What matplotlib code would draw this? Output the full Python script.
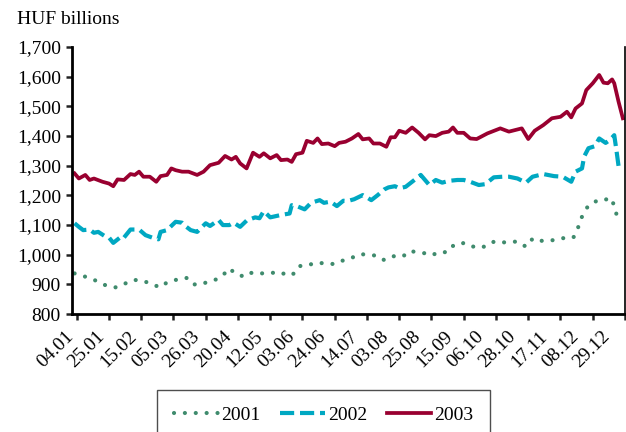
# weekly-ish readings of three years of daily values, one line per year

import matplotlib.pyplot as plt
from matplotlib.ticker import FuncFormatter
from matplotlib.transforms import ScaledTranslation

## DATA

# tick labels (one every 15 trading days)
tick_labels = ['04.01', '25.01', '15.02', '05.03', '26.03', '20.04', '12.05',
               '03.06', '24.06', '14.07', '03.08', '25.08', '15.09', '06.10',
               '28.10', '17.11', '08.12', '29.12']

# 2001 (trading day index, HUF billions)
days_2001 = [-1, 3, 6, 10, 14, 18, 21, 25, 27, 31, 35, 39, 42, 46, 49, 51, 54,
             58, 61, 65, 68, 71, 74, 78, 81, 84, 88, 91, 95, 98, 102, 104, 108,
             110, 113, 116, 120, 123, 126, 129, 132, 137, 140, 143, 146, 149,
             152, 155, 159, 162, 165, 168, 171, 174, 177, 180, 183, 187, 191,
             194, 197, 201, 204, 207, 210, 212, 216, 220, 224, 228, 231, 233,
             234, 236, 238, 242, 245, 248, 250, 251]
vals_2001 = [937, 928, 922, 909, 895, 890, 901, 907, 915, 912, 900, 890, 907,
             915, 920, 922, 900, 900, 909, 917, 931, 954, 935, 926, 939, 935,
             939, 939, 941, 929, 939, 962, 965, 971, 973, 969, 969, 979, 984,
             993, 1002, 999, 996, 982, 991, 999, 996, 1013, 1007, 1005, 998,
             1007, 1007, 1030, 1029, 1040, 1030, 1023, 1030, 1044, 1040, 1044,
             1044, 1030, 1030, 1055, 1047, 1047, 1053, 1058, 1058, 1086, 1115,
             1141, 1167, 1182, 1182, 1193, 1167, 1137]

# 2002
days_2002 = [-1, 1, 3, 6, 8, 10, 13, 15, 17, 21, 22, 25, 29, 32, 35, 38, 39,
             42, 46, 49, 51, 53, 56, 60, 62, 66, 68, 71, 73, 76, 79, 83, 85,
             87, 90, 95, 99, 100, 103, 106, 109, 113, 115, 118, 121, 124, 126,
             129, 133, 135, 137, 140, 143, 145, 148, 150, 153, 156, 160, 162,
             164, 167, 170, 173, 177, 180, 183, 187, 190, 194, 198, 201, 205,
             209, 212, 217, 222, 226, 230, 232, 235, 236, 238, 241, 243, 246,
             248, 250, 251, 252]
vals_2002 = [1106, 1094, 1083, 1085, 1074, 1077, 1063, 1058, 1040, 1063, 1058,
             1085, 1085, 1066, 1058, 1052, 1077, 1083, 1111, 1108, 1094, 1083,
             1077, 1106, 1097, 1117, 1100, 1100, 1108, 1094, 1115, 1126, 1123,
             1147, 1126, 1134, 1139, 1167, 1162, 1153, 1175, 1184, 1175, 1179,
             1164, 1182, 1181, 1187, 1201, 1193, 1184, 1201, 1220, 1227, 1231,
             1224, 1229, 1246, 1269, 1252, 1235, 1252, 1243, 1249, 1252, 1252,
             1246, 1235, 1238, 1261, 1263, 1263, 1257, 1243, 1263, 1272, 1265,
             1263, 1246, 1280, 1291, 1331, 1359, 1366, 1392, 1377, 1387, 1403,
             1353, 1299]

# 2003
days_2003 = [-1, 1, 4, 6, 8, 12, 15, 17, 19, 22, 25, 27, 29, 31, 34, 37, 39,
             42, 44, 46, 49, 52, 56, 59, 62, 66, 69, 72, 74, 76, 79, 82, 85,
             87, 90, 93, 95, 98, 100, 102, 105, 107, 110, 112, 114, 117, 120,
             122, 125, 128, 131, 133, 136, 138, 141, 144, 146, 148, 150, 153,
             156, 159, 162, 164, 167, 170, 173, 175, 177, 180, 183, 186, 191,
             197, 201, 207, 210, 213, 217, 221, 225, 228, 230, 232, 235, 237,
             240, 243, 245, 247, 249, 250, 252, 254]
vals_2003 = [1274, 1257, 1269, 1252, 1257, 1246, 1240, 1231, 1254, 1252, 1272,
             1269, 1280, 1263, 1263, 1246, 1265, 1269, 1291, 1285, 1280, 1280,
             1269, 1280, 1302, 1310, 1333, 1321, 1330, 1308, 1291, 1344, 1330,
             1342, 1325, 1336, 1319, 1321, 1313, 1339, 1344, 1384, 1377, 1392,
             1373, 1375, 1366, 1377, 1381, 1392, 1407, 1389, 1392, 1375, 1375,
             1364, 1396, 1396, 1418, 1411, 1429, 1411, 1389, 1403, 1400, 1411,
             1415, 1429, 1411, 1411, 1392, 1390, 1409, 1426, 1415, 1426, 1390,
             1418, 1437, 1460, 1465, 1482, 1463, 1493, 1510, 1555, 1578, 1606,
             1580, 1578, 1591, 1578, 1516, 1460]

## STYLE

green = '#3f8b6d'
blue = '#00a8c2'
red = '#990030'

plt.rcParams['font.family'] = ['Liberation Serif', 'DejaVu Serif']


def main():
    fig = plt.figure(figsize=(6.26, 4.32), dpi=100)
    ax = fig.add_axes([0.115, 0.273, 0.8834, 0.618])

    # the three years
    ax.plot(days_2001, vals_2001, color=green, lw=3.0,
            linestyle=(0, (0.01, 2.6)), dash_capstyle='round', label='2001')
    ax.plot(days_2002, vals_2002, color=blue, lw=3.0,
            linestyle=(0, (3.4, 1.4)), dash_capstyle='butt', label='2002')
    ax.plot(days_2003, vals_2003, color=red, lw=2.7,
            solid_joinstyle='round', label='2003')

    # axes
    ax.set_ylim(800, 1700)
    ax.set_yticks(range(800, 1701, 100))
    ax.yaxis.set_major_formatter(FuncFormatter(lambda v, p: f'{int(v):,}'))
    ax.set_xlim(-2.2, 255)
    ax.set_xticks(range(0, 256, 15))

    ax.spines['top'].set_visible(False)
    ax.spines['left'].set_linewidth(2.0)
    ax.spines['bottom'].set_linewidth(2.0)
    ax.spines['right'].set_linewidth(1.2)
    ax.tick_params(axis='both', direction='out', length=4, width=1.8,
                   labelsize=14, color='#222222')
    ax.tick_params(axis='x', pad=6)
    ax.tick_params(axis='y', pad=4)

    ax.set_xticklabels(tick_labels, rotation=45, ha='right', va='top',
                       rotation_mode='anchor')

    # the slanted labels sit a little left of their ticks, more so to the right
    labels = ax.get_xticklabels()
    for i, lab in enumerate(labels):
        dx = -(12 + 11.5 * i / (len(labels) - 1)) / 100
        shift = ScaledTranslation(dx, 0, fig.dpi_scale_trans)
        lab.set_transform(lab.get_transform() + shift)

    fig.text(0.027, 1 - 24 / 432, 'HUF billions', fontsize=14,
             ha='left', va='baseline')

    # legend box hanging off the bottom
    leg = fig.legend(loc='upper center', bbox_to_anchor=(0.517, 0.097),
                     ncol=3, fontsize=14, frameon=True, fancybox=False,
                     handlelength=2.3, handletextpad=0.15, columnspacing=1.0,
                     borderpad=0.85, borderaxespad=0)
    leg.get_frame().set_edgecolor('#222222')
    leg.get_frame().set_linewidth(1.0)

    fig.savefig('out.png', dpi=100)


main()
